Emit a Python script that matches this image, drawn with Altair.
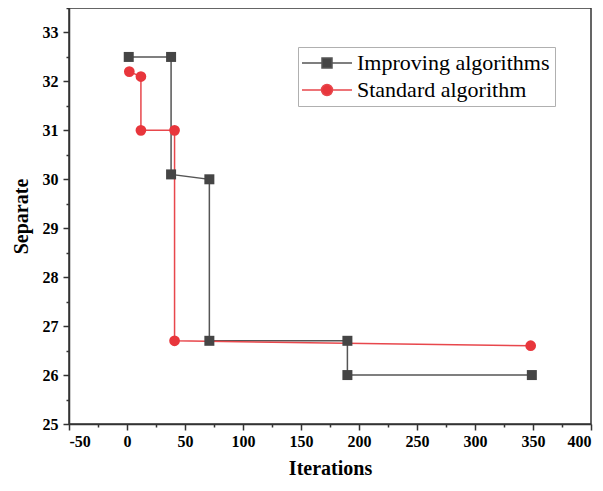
import altair as alt
import pandas as pd

series_names = ["Improving algorithms", "Standard algorithm"]

imp_x = [1.5, 38, 38, 71, 71, 190, 190, 349]
imp_y = [32.5, 32.5, 30.1, 30.0, 26.7, 26.7, 26.0, 26.0]

std_x = [2, 12, 12, 41, 41, 348]
std_y = [32.2, 32.1, 31.0, 31.0, 26.7, 26.6]

x_tick_values = [-50, -25, 0, 25, 50, 75, 100, 125, 150, 175, 200, 225,
                 250, 275, 300, 325, 350, 375, 400]
y_tick_values = [25, 25.5, 26, 26.5, 27, 27.5, 28, 28.5, 29, 29.5, 30,
                 30.5, 31, 31.5, 32, 32.5, 33, 33.5]

rows = []
for i, (xv, yv) in enumerate(zip(imp_x, imp_y)):
    rows.append({"iter": xv, "sep": yv, "series": series_names[0], "order": i})
for i, (xv, yv) in enumerate(zip(std_x, std_y)):
    rows.append({"iter": xv, "sep": yv, "series": series_names[1], "order": i})
df = pd.DataFrame(rows)

line_colors = ["#555555", "#e8474c"]
marker_colors = ["#454545", "#e8363c"]

FONT = "Liberation Serif"

x_axis = alt.Axis(
    values=x_tick_values,
    labelExpr="datum.value % 50 === 0 ? '' + datum.value : ''",
    tickSize={"condition": {"test": "datum.value % 50 === 0", "value": 6}, "value": 3},
    labelPadding=3,
    title="Iterations",
    titlePadding=9,
    grid=False,
)
y_axis = alt.Axis(
    values=y_tick_values,
    labelExpr="datum.value % 1 === 0 ? '' + datum.value : ''",
    tickSize={"condition": {"test": "datum.value % 1 === 0", "value": 6}, "value": 3},
    labelPadding=5,
    title="Separate",
    titlePadding=11,
    grid=False,
)

x_enc = alt.X("iter:Q", scale=alt.Scale(domain=[-50, 400], nice=False, zero=False), axis=x_axis)
y_enc = alt.Y("sep:Q", scale=alt.Scale(domain=[25, 33.5], nice=False, zero=False), axis=y_axis)

base = alt.Chart(df)

imp_line = base.transform_filter(
    alt.datum.series == series_names[0]
).mark_line(strokeWidth=1.5, color=line_colors[0]).encode(
    x=x_enc, y=y_enc, order="order:Q"
)

std_line = base.transform_filter(
    alt.datum.series == series_names[1]
).mark_line(strokeWidth=1.5, color=line_colors[1]).encode(
    x=x_enc, y=y_enc, order="order:Q"
)

squares = base.transform_filter(
    alt.datum.series == series_names[0]
).mark_point(shape="square", filled=True, size=100, opacity=1, color=marker_colors[0]).encode(
    x=x_enc, y=y_enc
)

circles = base.transform_filter(
    alt.datum.series == series_names[1]
).mark_point(shape="circle", filled=True, size=115, opacity=1, color=marker_colors[1]).encode(
    x=x_enc, y=y_enc
)

sq_path = "M-2.5,0H-0.5M0.5,0H2.5M-0.5,-0.5H0.5V0.5H-0.5Z"
ci_path = ("M-2.5,0H-0.55M0.55,0H2.5"
           "M-0.55,0C-0.55,-0.3038,-0.3038,-0.55,0,-0.55"
           "C0.3038,-0.55,0.55,-0.3038,0.55,0"
           "C0.55,0.3038,0.3038,0.55,0,0.55"
           "C-0.3038,0.55,-0.55,0.3038,-0.55,0Z")

leg = alt.Legend(
    orient="none",
    legendX=229,
    legendY=39,
    title=None,
    labelFont=FONT,
    labelFontSize=22,
    labelColor="black",
    labelLimit=400,
    symbolSize=400,
    symbolStrokeWidth=1.5,
    symbolOpacity=1,
    symbolOffset=13,
    labelOffset=19,
    padding=5,
    rowPadding=5,
    strokeColor="#b0b0b0",
    fillColor="white",
)

# legend-only layer: no visible marks, legend entries come from the explicit scale domains
legend_layer = base.transform_filter(
    alt.datum.iter < -1000
).mark_point(filled=True, opacity=1).encode(
    x=x_enc,
    y=y_enc,
    fill=alt.Fill("series:N", scale=alt.Scale(domain=series_names, range=marker_colors), legend=leg),
    stroke=alt.Stroke("series:N", scale=alt.Scale(domain=series_names, range=line_colors), legend=leg),
    shape=alt.Shape("series:N", scale=alt.Scale(domain=series_names, range=[sq_path, ci_path]), legend=leg),
)

chart = alt.layer(imp_line, std_line, squares, circles, legend_layer).properties(
    width=522,
    height=416,
    padding={"left": 61, "top": 0, "right": 4, "bottom": 58},
    autosize=alt.AutoSizeParams(type="none"),
).configure_view(
    stroke="#333333", strokeWidth=1.5
).configure_axis(
    domainColor="#333333",
    domainWidth=1.5,
    tickColor="#333333",
    tickWidth=1.5,
    labelFont=FONT,
    labelFontSize=16,
    labelFontWeight="bold",
    labelColor="black",
    titleFont=FONT,
    titleFontSize=20,
    titleFontWeight="bold",
    titleColor="black",
)

chart.save("out.html", embed_options={"renderer": "svg", "actions": False})
